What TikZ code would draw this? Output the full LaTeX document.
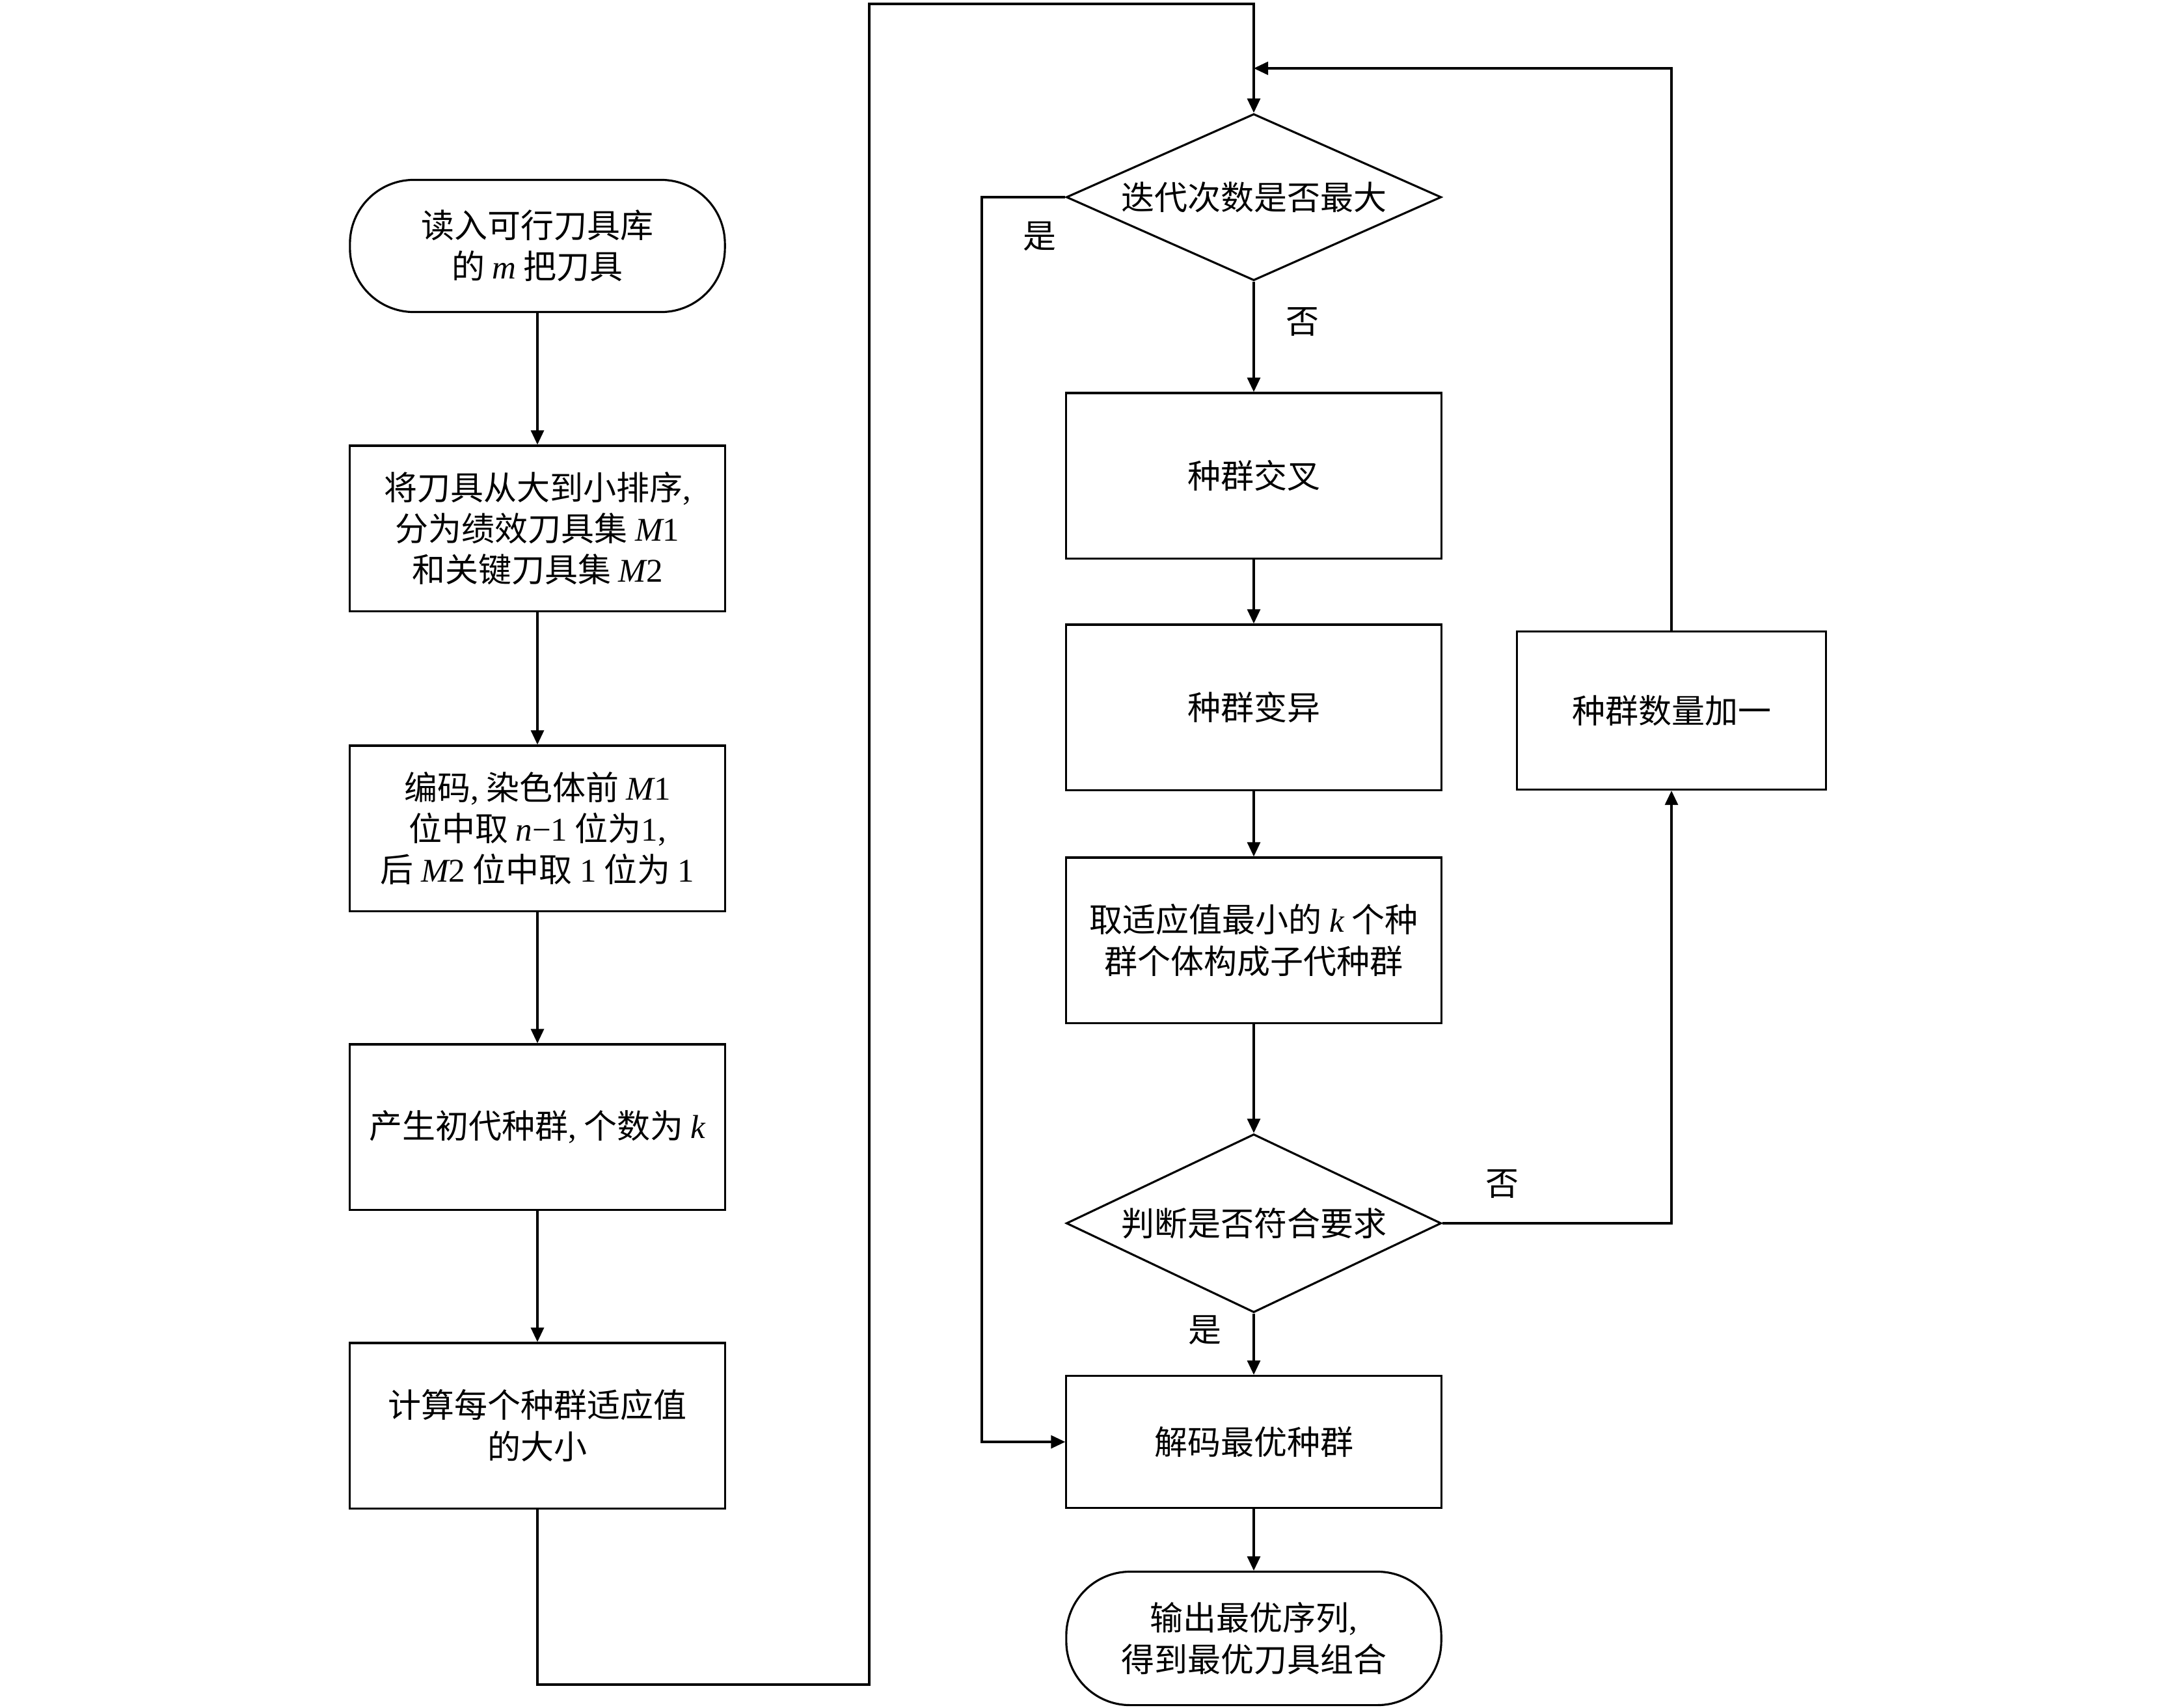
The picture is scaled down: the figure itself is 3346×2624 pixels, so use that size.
\documentclass[tikz,border=0pt]{standalone}
\usepackage{fontspec}
\setmainfont{Liberation Serif}
\newfontfamily\cjk{Noto Sans CJK SC}
\newfontfamily\lat{Liberation Serif}
\usepackage{tikz}
\usetikzlibrary{positioning,arrows.meta,shapes.geometric}

\newcommand\la[1]{{\lat #1}}
\newcommand\va[1]{{\lat\itshape #1}}

\begin{document}
\begin{tikzpicture}[x=0.01cm,y=-0.01cm]
	\tikzset{every node/.style={font=\fontsize{14.5}{18}\cjk},
		>={Triangle[length=2.2mm,width=2mm]},
		flow/.style={draw,line width=0.9pt,->}}
	\tikzstyle{procbox}=[draw,line width=0.9pt,minimum width=5.76cm,minimum height=2.54cm,align=center,inner sep=0pt]
	\tikzstyle{termbox}=[procbox,minimum height=2.03cm,rounded corners=0.98cm]
	\tikzstyle{decision}=[draw,line width=0.9pt,diamond,aspect=2.25,minimum width=5.76cm,minimum height=2.56cm,inner sep=0pt]
	\useasboundingbox (0,0) rectangle (3346,2624);

	%% left column
	\node[termbox] (start) at (826,378) {读入可行刀具库\\的 \va{m} 把刀具};
	\node[procbox] (sort) at (826,812) {将刀具从大到小排序\la{,}\\分为绩效刀具集 \va{M}\la{1}\\和关键刀具集 \va{M}\la{2}};
	\node[procbox] (code) at (826,1273) {编码\la{,} 染色体前 \va{M}\la{1}\\位中取 \va{n}\la{−1} 位为\la{1,}\\后 \va{M}\la{2} 位中取 \la{1} 位为 \la{1}};
	\node[procbox] (init) at (826,1732) {产生初代种群\la{,} 个数为 \va{k}};
	\node[procbox] (fit) at (826,2191) {计算每个种群适应值\\的大小};

	%% right column
	\node[decision] (iter) at (1927,303) {迭代次数是否最大};
	\node[procbox] (cross) at (1927,731) {种群交叉};
	\node[procbox] (mut) at (1927,1087) {种群变异};
	\node[procbox] (sel) at (1927,1445) {取适应值最小的 \va{k} 个种\\群个体构成子代种群};
	\node[decision,minimum height=2.74cm] (check) at (1927,1880) {判断是否符合要求};
	\node[procbox,minimum height=2.03cm] (decode) at (1927,2216) {解码最优种群};
	\node[termbox,minimum height=2.05cm] (out) at (1927,2518) {输出最优序列\la{,}\\得到最优刀具组合};
	\node[procbox,minimum width=4.74cm,minimum height=2.43cm] (grow) at (2569,1092) {种群数量加一};

	\coordinate (lowturn) at (1336,2589);
	\coordinate (topturn) at (1336,6);
	\coordinate (yesturn) at (1509,303);
	\coordinate (merge) at (1927,105);

	\path[flow]
		(start) edge (sort)
		(sort) edge (code)
		(code) edge (init)
		(init) edge (fit)
		(iter) edge (cross)
		(cross) edge (mut)
		(mut) edge (sel)
		(sel) edge (check)
		(check) edge (decode)
		(decode) edge (out);
	\draw[flow] (fit.south) |- (lowturn) -- (topturn) -| (iter.north);
	\draw[flow] (iter.west) -- (yesturn) |- (decode.west);
	\draw[flow] (check.east) -| (grow.south);
	\draw[flow] (grow.north) |- (merge);

	%% branch labels
	\node (yes1) at (1598,363) {是};
	\node (no1) at (2002,495) {否};
	\node (no2) at (2309,1820) {否};
	\node (yes2) at (1852,2044) {是};
\end{tikzpicture}
\end{document}
